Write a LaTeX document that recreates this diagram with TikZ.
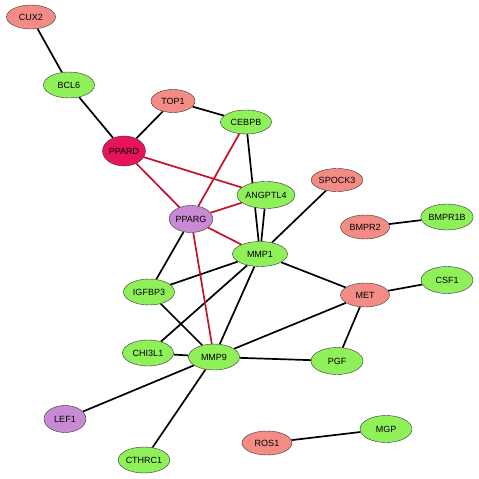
\documentclass[tikz,border=0pt]{standalone}
\usepackage{fontspec}
\setmainfont{Liberation Sans}
\usetikzlibrary{shapes.geometric,backgrounds}
\definecolor{vert}{HTML}{8FF05A}
\definecolor{rose}{HTML}{F48C86}
\definecolor{framboise}{HTML}{E8145A}
\definecolor{mauve}{HTML}{C98AD4}
\definecolor{lienrouge}{HTML}{C4102C}
\begin{document}
\begin{tikzpicture}[
    x=1pt, y=-1pt,
    % Réglages des noeuds (gènes)
    gene/.style={ellipse, draw=black!80, thin, inner sep=0pt,
        minimum width=51pt, minimum height=26pt, font=\fontsize{9}{10}\selectfont},
    gvert/.style={gene, fill=vert},
    grose/.style={gene, fill=rose},
    grouge/.style={gene, fill=framboise},
    gmauve/.style={gene, fill=mauve},
    % Réglages des liens
    lien/.style={draw, line width=1.7pt, black},
    lienr/.style={draw, line width=1.7pt, lienrouge}
]
\useasboundingbox (0,0) rectangle (479,479);
% Gènes
\node[grose, minimum width=49pt, minimum height=24pt] (cux2) at (31,17) {CUX2};
\node[gvert] (bcl6) at (69,85) {BCL6};
\node[grose, minimum width=44pt, minimum height=23pt] (top1) at (173,101) {TOP1};
\node[grouge, minimum width=40pt, minimum height=30pt] (ppard) at (124,151) {PPARD};
\node[gvert, minimum height=24pt] (cebpb) at (246,122) {CEBPB};
\node[gmauve, minimum width=42pt, minimum height=27pt] (pparg) at (191,219) {PPARG};
\node[gvert, minimum width=52pt, minimum height=27pt] (angptl4) at (266,195) {ANGPTL4};
\node[grose, minimum width=44pt, minimum height=23pt] (spock3) at (337,180) {SPOCK3};
\node[grose, minimum width=49pt, minimum height=24pt] (bmpr2) at (365,227) {BMPR2};
\node[gvert] (bmpr1b) at (447,217) {BMPR1B};
\node[gvert, minimum width=55pt, minimum height=25pt] (mmp1) at (260,254) {MMP1};
\node[gvert] (igfbp3) at (149,292) {IGFBP3};
\node[grose, minimum width=49pt, minimum height=24pt] (met) at (365,295) {MET};
\node[gvert, minimum width=52pt, minimum height=27pt] (csf1) at (447,280) {CSF1};
\node[gvert] (chi3l1) at (148,353) {CHI3L1};
\node[gvert] (mmp9) at (214,357) {MMP9};
\node[gvert, minimum width=52pt, minimum height=27pt] (pgf) at (337,361) {PGF};
\node[gmauve, minimum width=42pt, minimum height=27pt] (lef1) at (65,419) {LEF1};
\node[gvert, minimum width=52pt, minimum height=27pt] (mgp) at (386,429) {MGP};
\node[grose, minimum width=50pt, minimum height=24pt] (ros1) at (267,443) {ROS1};
\node[gvert] (cthrc1) at (144,460) {CTHRC1};
% Liens
\begin{pgfonlayer}{background}
\path[lien] (cux2) -- (bcl6);
\path[lien] (bcl6) -- (ppard);
\path[lien] (ppard) -- (top1);
\path[lien] (top1) -- (cebpb);
\path[lien] (cebpb.center) -- (mmp1);
\path[lien] (angptl4) -- (mmp1);
\path[lien] (spock3) -- (mmp1);
\path[lien] (bmpr2) -- (bmpr1b);
\path[lien] (mmp1) -- (met);
\path[lien] (met) -- (csf1);
\path[lien] (met) -- (pgf);
\path[lien] (met) -- (mmp9);
\path[lien] (mmp9) -- (pgf);
\path[lien] (ros1) -- (mgp);
\path[lien] (pparg) -- (igfbp3);
\path[lien] (igfbp3) -- (mmp1);
\path[lien] (igfbp3) -- (mmp9);
\path[lien] (chi3l1) -- (mmp1);
\path[lien] (chi3l1) -- (mmp9);
\path[lien] (mmp9) -- (mmp1);
\path[lien] (mmp9) -- (lef1);
\path[lien] (mmp9) -- (cthrc1);
% Liens rouges
\path[lienr] (ppard) -- (pparg);
\path[lienr] (ppard) -- (angptl4);
\path[lienr] (pparg) -- (cebpb);
\path[lienr] (pparg) -- (angptl4);
\path[lienr] (pparg) -- (mmp1);
\path[lienr] (pparg) -- (mmp9);
\end{pgfonlayer}
\end{tikzpicture}
\end{document}
